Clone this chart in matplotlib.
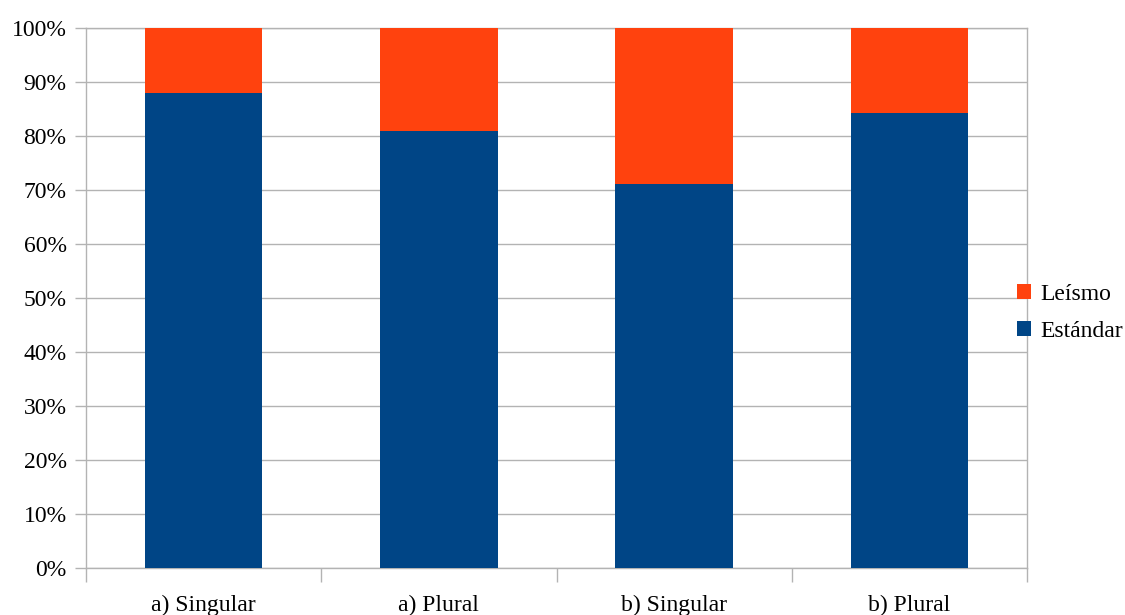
import matplotlib.pyplot as plt
import numpy as np

plt.rcParams['font.family'] = ['Liberation Serif', 'DejaVu Serif']

categories = ["a) Singular", "a) Plural", "b) Singular", "b) Plural"]
estandar = [88.0, 80.9, 71.1, 84.3]
leismo = [12.0, 19.1, 28.9, 15.7]

blue = "#004586"
orange = "#FF420E"
grid = "#b3b3b3"

fig = plt.figure(figsize=(11.25, 6.15), dpi=100)
ax = fig.add_axes([86/1125, 1 - 568/615, (1027 - 86)/1125, (568 - 28)/615])

x = np.arange(len(categories))
ax.bar(x, estandar, width=0.5, color=blue, label="Estándar", zorder=3)
ax.bar(x, leismo, width=0.5, bottom=estandar, color=orange, label="Leísmo", zorder=3)

ax.set_xlim(-0.5, len(categories) - 0.5)
ax.set_ylim(0, 100)
ax.set_yticks(np.arange(0, 101, 10))
ax.set_yticklabels([f"{v}%" for v in range(0, 101, 10)])
ax.yaxis.grid(True, color=grid, linewidth=1, zorder=0)

# boundaries as major ticks, labels on minor ticks at the centres
ax.set_xticks(np.arange(-0.5, len(categories), 1))
ax.set_xticklabels([])
ax.set_xticks(x, minor=True)
ax.set_xticklabels(categories, minor=True)
ax.tick_params(axis='x', which='major', length=10, color=grid, width=1)
ax.tick_params(axis='x', which='minor', length=0, pad=19.5, labelsize=17)
ax.tick_params(axis='y', length=8, color=grid, width=1, pad=6, labelsize=17)

for s in ax.spines.values():
    s.set_color(grid)
    s.set_linewidth(1)

handles, labels = ax.get_legend_handles_labels()
fig.legend(handles[::-1], labels[::-1], loc='center left',
           bbox_to_anchor=(1017/1125, 1 - 313/615), frameon=False,
           fontsize=17, handlelength=0.6, handleheight=0.6,
           handletextpad=0.38, labelspacing=0.7, borderpad=0, borderaxespad=0)

fig.savefig("out.png", dpi=100)
